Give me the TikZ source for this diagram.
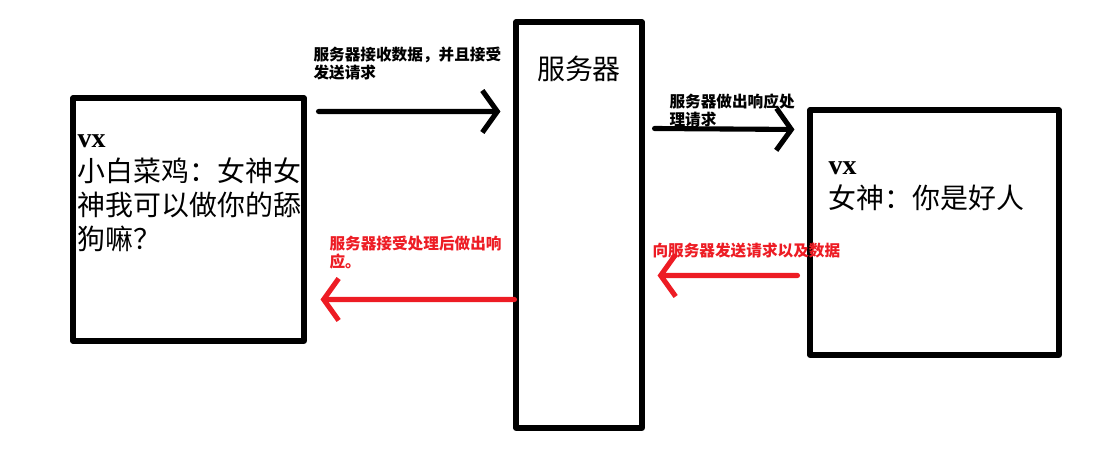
\documentclass[tikz,border=0pt]{standalone}
\usepackage{fontspec}
\setmainfont{Liberation Serif}
\newfontfamily\cjk{Noto Sans CJK SC}
\usepackage{xcolor}
\usetikzlibrary{arrows.meta, positioning, calc}
\definecolor{paintred}{RGB}{237,28,36}

\begin{document}
\begin{tikzpicture}[x=0.02cm, y=-0.02cm, line width=2.9pt, line cap=round, line join=round,
    >={Straight Barb[length=0.3cm, width=0.84cm]}]
  \tikzstyle{box} = [rectangle, draw, inner sep=0pt]
  \tikzstyle{msg} = [inner sep=0pt, align=left, anchor=north west, font=\cjk\fontsize{15.9}{19.3}\selectfont]
  \tikzstyle{note} = [inner sep=0pt, align=left, anchor=north west, font=\cjk\bfseries\fontsize{8.9}{10.6}\selectfont]

  \useasboundingbox (0,0) rectangle (1115,466);

  \node[box, minimum width=4.62cm, minimum height=4.86cm] (Sender) at (188.5,219.5) {};
  \node[box, minimum width=2.52cm, minimum height=8.12cm] (Server) at (579,225) {};
  \node[box, minimum width=4.98cm, minimum height=4.9cm] (Receiver) at (934.5,232.5) {};

  \node[msg] (SenderText) at (75,132) {{\rmfamily\bfseries vx}\\小白菜鸡：女神女\\神我可以做你的舔\\狗嘛？};
  \node[msg, anchor=north] (ServerTitle) at (579,53) {服务器};
  \node[msg] (ReceiverText) at (826,159) {{\rmfamily\bfseries vx}\\女神：你是好人};

  % requests
  \draw[->] ($(Sender.north east)+(12,16)$) -- ($(Server.north west)+(-13,92)$);
  \draw[->] ($(Server.north east)+(10,109)$) -- ($(Receiver.north west)+(-13,22)$);
  \node[note] (ForwardNote) at (311,44) {服务器接收数据，并且接受\\发送请求};
  \node[note] (HandleNote) at (667,91) {服务器做出响应处\\理请求};

  % responses
  \draw[->, paintred] ($(Receiver.north west)+(-10,168)$) -- ($(Server.north east)+(13,256)$);
  \draw[->, paintred] ($(Server.north west)+(1,280)$) -- ($(Sender.north east)+(14,204)$);
  \node[note, text=paintred] (SendNote) at (650,240) {向服务器发送请求以及数据};
  \node[note, text=paintred] (ReplyNote) at (327,233) {服务器接受处理后做出响\\应。};
\end{tikzpicture}
\end{document}
